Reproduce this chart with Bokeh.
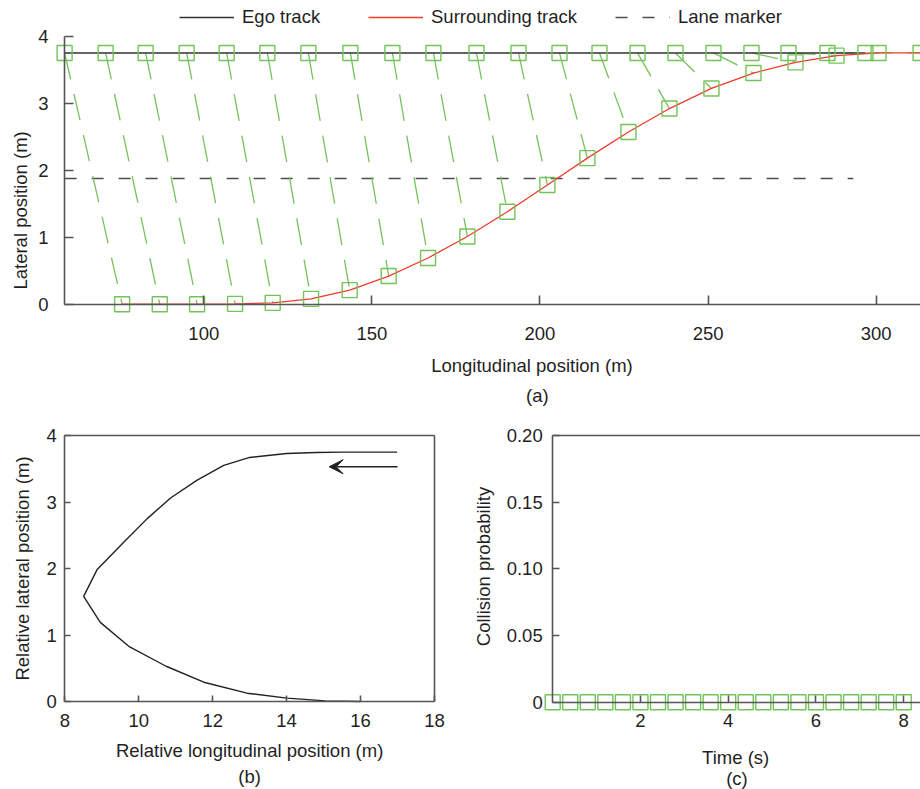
from math import pi
from bokeh.plotting import figure
from bokeh.models import (Range1d, LinearAxis, FixedTicker, Label, Legend, LegendItem,
                          Arrow, VeeHead, PrintfTickFormatter)
from bokeh.layouts import column, row
from bokeh.embed import file_html
from bokeh.resources import INLINE

# ---------------- data ----------------
# (a) trajectories
ego_x = [58.6, 70.8, 82.7, 94.9, 106.8, 118.9, 131.1, 143.6, 156.1, 168.3, 181.1,
         193.6, 205.8, 217.7, 229.0, 240.3, 251.6, 262.9, 273.9, 285.5, 296.8]
ego_y = [3.75, 3.75, 3.75, 3.75, 3.75, 3.75, 3.75, 3.75, 3.75, 3.75, 3.75,
         3.75, 3.75, 3.75, 3.75, 3.75, 3.75, 3.75, 3.75, 3.75, 3.75]
surr_x = [75.7, 86.9, 98.0, 109.3, 120.5, 131.9, 143.4, 155.0, 166.7, 178.4, 190.3,
          202.2, 214.1, 226.3, 238.5, 251.0, 263.5, 276.0, 288.2, 300.7, 313.2]
surr_y = [0.0, 0.0, 0.0, 0.005, 0.02, 0.08, 0.21, 0.42, 0.69, 1.01, 1.38,
          1.78, 2.18, 2.57, 2.92, 3.22, 3.45, 3.61, 3.71, 3.75, 3.75]
lane_x = [58.6, 293.2]
lane_y = [1.875, 1.875]
a_xticks = [100, 150, 200, 250, 300]
a_yticks = [0, 1, 2, 3, 4]

# (b) relative position
rel_x = [16.99, 16.2, 15.5, 14.8, 14.0, 13.0, 12.3, 11.58, 10.86, 10.23, 9.6,
         8.87, 8.51, 8.96, 9.73, 10.74, 11.76, 12.93, 14.01, 15.05, 16.0]
rel_y = [3.75, 3.75, 3.75, 3.745, 3.73, 3.67, 3.55, 3.33, 3.06, 2.75, 2.40,
         1.98, 1.58, 1.19, 0.83, 0.53, 0.29, 0.125, 0.05, 0.01, 0.0]
arrow_x = [17.0, 15.15]
arrow_y = [3.53, 3.53]
b_xticks = [8, 10, 12, 14, 16, 18]
b_yticks = [0, 1, 2, 3, 4]

# (c) collision probability
time_s = [0.0, 0.4, 0.8, 1.2, 1.6, 2.0, 2.4, 2.8, 3.2, 3.6, 4.0,
          4.4, 4.8, 5.2, 5.6, 6.0, 6.4, 6.8, 7.2, 7.6, 8.0]
coll_p = [0.0, 0.0, 0.0, 0.0, 0.0, 0.0, 0.0, 0.0, 0.0, 0.0, 0.0,
          0.0, 0.0, 0.0, 0.0, 0.0, 0.0, 0.0, 0.0, 0.0, 0.0]
c_xticks = [2, 4, 6, 8]
c_yticks = [0, 0.05, 0.10, 0.15, 0.20]

# ---------------- style ----------------
FONT = "Liberation Sans"
FS = "18.5px"
TXT = "#1f1f1f"
AX = "#555555"
GREEN = "#74c35a"
RED = "#f23a2a"
BLACK = "#333333"


def make_fig(w, h, xr, yr):
    p = figure(width=w, height=h, x_range=Range1d(*xr), y_range=Range1d(*yr),
               x_axis_location=None, y_axis_location=None, toolbar_location=None,
               output_backend="svg", min_border=0, outline_line_color=None)
    p.grid.visible = False
    return p


def add_axis(p, side, loc, bounds, ticks, tick_in=0, standoff=10, fmt=None, overrides=None):
    ax = LinearAxis(fixed_location=loc, bounds=bounds,
                    ticker=FixedTicker(ticks=ticks, minor_ticks=[]),
                    axis_line_color=AX, axis_line_width=1.6,
                    major_tick_line_color=AX, major_tick_line_width=1.6,
                    major_tick_in=tick_in, major_tick_out=0,
                    minor_tick_line_color=None,
                    major_label_standoff=standoff,
                    major_label_text_font=FONT, major_label_text_font_size=FS,
                    major_label_text_color=TXT)
    if fmt is not None:
        ax.formatter = fmt
    if overrides is not None:
        ax.major_label_overrides = overrides
    p.add_layout(ax, side)
    return ax


def add_text(p, x, y, text, angle=0.0):
    p.add_layout(Label(x=x, y=y, text=text, angle=angle, text_align="center",
                       text_baseline="middle", text_font=FONT, text_font_size=FS,
                       text_color=TXT))


# ---------------- (a) ----------------
pa = make_fig(920, 412, (39.53, 313.18), (-1.6164, 4.5328))
r_lane = pa.line(lane_x, lane_y, line_color="#4d4d4d", line_width=1.5, line_dash="12 15")
pa.segment(x0=ego_x, y0=ego_y, x1=surr_x[:len(ego_x)], y1=surr_y[:len(ego_x)],
           line_color=GREEN, line_width=1.3, line_dash="27 15")
r_ego = pa.line(ego_x, ego_y, line_color=BLACK, line_width=1.5)
r_surr = pa.line(surr_x, surr_y, line_color=RED, line_width=1.3)
pa.scatter(ego_x, ego_y, marker="square", size=15, fill_color=None,
           line_color=GREEN, line_width=1.4)
pa.scatter(surr_x, surr_y, marker="square", size=15, fill_color=None,
           line_color=GREEN, line_width=1.4)
add_axis(pa, "below", 0, (58.6, 313.18), a_xticks, tick_in=9, standoff=23)
add_axis(pa, "left", 58.6, (0, 4), a_yticks, tick_in=9, standoff=16)
add_text(pa, 197.6, -0.915, "Longitudinal position (m)")
add_text(pa, 45.5, 1.40, "Lateral position (m)", angle=pi / 2)
add_text(pa, 199.2, -1.363, "(a)")

for label, rend, xpos in [("Ego track", r_ego, 179), ("Surrounding track", r_surr, 368),
                          ("Lane marker", r_lane, 615)]:
    leg = Legend(items=[LegendItem(label=label, renderers=[rend])], location=(xpos, 384),
                 orientation="horizontal", padding=0, margin=0, spacing=0,
                 border_line_color=None, background_fill_alpha=0,
                 glyph_width=55, glyph_height=20, label_height=20, label_standoff=8,
                 label_text_font=FONT, label_text_font_size=FS, label_text_color=TXT)
    pa.add_layout(leg, "center")

# ---------------- (b) ----------------
pb = make_fig(470, 377, (6.2607, 18.974), (-1.3233, 4.3459))
pb.line(rel_x, rel_y, line_color="#222222", line_width=1.4)
pb.add_layout(Arrow(end=VeeHead(size=14, fill_color="#222222", line_color="#222222"),
                    x_start=arrow_x[0], y_start=arrow_y[0], x_end=arrow_x[1], y_end=arrow_y[1],
                    line_color="#222222", line_width=1.4))
add_axis(pb, "below", 0, (8, 18), b_xticks, tick_in=6, standoff=12)
add_axis(pb, "left", 8, (0, 4), b_yticks, tick_in=6, standoff=8)
add_axis(pb, "above", 4, (8, 18), [])
add_axis(pb, "right", 18, (0, 4), [])
add_text(pb, 13.0, -0.737, "Relative longitudinal position (m)")
add_text(pb, 6.85, 2.0, "Relative lateral position (m)", angle=pi / 2)
add_text(pb, 13.0, -1.128, "(b)")

# ---------------- (c) ----------------
pc = make_fig(450, 377, (-1.8733, 8.382), (-0.06547, 0.21725))
pc.scatter(time_s, coll_p, marker="square", size=15, fill_color=None,
           line_color=GREEN, line_width=1.4)
add_axis(pc, "below", 0, (0, 8.382), c_xticks, tick_in=7, standoff=12)
add_axis(pc, "left", 0, (0, 0.2), c_yticks, tick_in=7, standoff=10,
         fmt=PrintfTickFormatter(format="%.2f"), overrides={0: "0"})
add_axis(pc, "above", 0.2, (0, 8.382), [])
add_text(pc, -1.577, 0.1018, "Collision probability", angle=pi / 2)
add_text(pc, 4.17, -0.0413, "Time (s)")
add_text(pc, 4.2, -0.0572, "(c)")

layout = column(pa, row(pb, pc, spacing=0), spacing=0)
open("out.html", "w").write(file_html(layout, INLINE))
